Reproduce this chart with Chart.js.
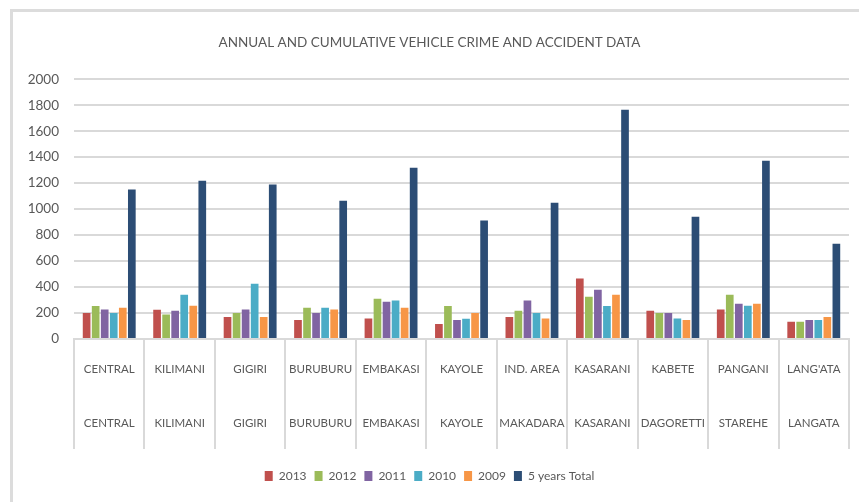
<!DOCTYPE html>
<html>
<head>
<meta charset="utf-8">
<script src="https://cdn.jsdelivr.net/npm/chart.js@4"></script>
<style>
    html, body { margin: 0; padding: 0; background: #fff; }
    #wrap { position: relative; width: 859px; height: 502px; overflow: hidden; }
    #frame { position: absolute; left: 10px; top: 9px; width: 900px; height: 600px;
             border-left: 3px solid #dcdcdc; border-top: 3px solid #dcdcdc; }
    canvas { position: absolute; left: 0; top: 0; }
</style>
</head>
<body>
<div id="wrap">
    <div id="frame"></div>
    <canvas id="chart" width="859" height="502"></canvas>
</div>
<script>
// Dữ liệu
const stations = ["CENTRAL", "KILIMANI", "GIGIRI", "BURUBURU", "EMBAKASI", "KAYOLE", "IND. AREA", "KASARANI", "KABETE", "PANGANI", "LANG'ATA"];
const divisions = ["CENTRAL", "KILIMANI", "GIGIRI", "BURUBURU", "EMBAKASI", "KAYOLE", "MAKADARA", "KASARANI", "DAGORETTI", "STAREHE", "LANGATA"];

const y2013 = [200, 225, 170, 147, 158, 116, 170, 465, 217, 227, 132];
const y2012 = [255, 188, 200, 240, 310, 255, 217, 325, 200, 341, 132];
const y2011 = [228, 217, 227, 200, 287, 147, 297, 380, 200, 271, 147];
const y2010 = [200, 341, 426, 240, 297, 155, 200, 255, 158, 256, 147];
const y2009 = [240, 256, 170, 227, 240, 200, 158, 341, 147, 271, 170];
const total5 = [1150, 1219, 1189, 1065, 1318, 912, 1049, 1765, 941, 1372, 734];

const yTicks = [0, 200, 400, 600, 800, 1000, 1200, 1400, 1600, 1800, 2000];

const FONT = "Lato, 'Open Sans', sans-serif";
const TEXT = "#595959";
const GRID = "#d9d9d9";

const series = [
    { label: "2013", data: y2013, color: "#c0504d" },
    { label: "2012", data: y2012, color: "#9bbb59" },
    { label: "2011", data: y2011, color: "#8064a2" },
    { label: "2010", data: y2010, color: "#4bacc6" },
    { label: "2009", data: y2009, color: "#f79646" },
    { label: "5 years Total", data: total5, color: "#2c4d75" }
];

const ctx = document.getElementById("chart").getContext("2d");
new Chart(ctx, {
    type: "bar",
    data: {
        labels: stations.map((s, i) => [s, divisions[i]]),
        datasets: series.map(s => ({
            label: s.label,
            data: s.data,
            backgroundColor: s.color,
            borderWidth: 0,
            categoryPercentage: 0.77,
            barPercentage: 0.85
        }))
    },
    options: {
        responsive: false,
        animation: false,
        layout: { padding: { left: 10, right: 10, top: 32, bottom: 10 } },
        plugins: {
            title: {
                display: true,
                text: "ANNUAL AND CUMULATIVE VEHICLE CRIME AND ACCIDENT DATA",
                color: TEXT,
                font: { family: FONT, size: 13.5, weight: "normal" },
                padding: { top: 3, bottom: 28 }
            },
            legend: {
                position: "bottom",
                labels: {
                    color: TEXT,
                    font: { family: FONT, size: 12 },
                    boxWidth: 8,
                    boxHeight: 10,
                    padding: 8
                }
            },
            tooltip: { enabled: false }
        },
        scales: {
            x: {
                grid: {
                    drawOnChartArea: false,
                    drawTicks: true,
                    tickLength: 110,
                    color: GRID,
                    lineWidth: 2
                },
                border: { display: true, color: GRID, width: 2 },
                ticks: {
                    color: TEXT,
                    font: { family: FONT, size: 11.5, lineHeight: 4.7 },
                    padding: -107,
                    maxRotation: 0,
                    autoSkip: false
                },
                afterFit(scale) { scale.height = 123; }
            },
            y: {
                min: 0,
                max: 2000,
                afterBuildTicks(scale) { scale.ticks = yTicks.map(v => ({ value: v })); },
                grid: { color: GRID, lineWidth: 2, drawTicks: false },
                border: { display: false },
                ticks: {
                    color: TEXT,
                    font: { family: FONT, size: 13.5 },
                    padding: 15,
                    callback: v => String(v)
                },
                afterFit(scale) { scale.width = 64; }
            }
        }
    }
});
</script>
</body>
</html>
